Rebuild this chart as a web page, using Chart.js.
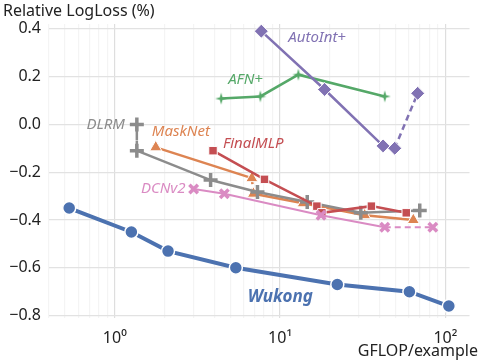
<!DOCTYPE html>
<html>
<head>
<meta charset="utf-8">
<script src="https://cdn.jsdelivr.net/npm/chart.js@4.4.1/dist/chart.umd.min.js"></script>
<style>
  html, body { margin: 0; padding: 0; background: #fff; }
  #wrap { width: 480px; height: 361px; }
</style>
</head>
<body>
<div id="wrap"><canvas id="myChart" width="480" height="361"></canvas></div>
<script>
// values (x = GFLOP/example, y = relative logloss %)
const wukongX = [0.53, 1.26, 2.1, 5.4, 22.2, 60.6, 105];
const wukongY = [-0.35, -0.45, -0.53, -0.60, -0.67, -0.70, -0.76];
const autoIntX = [7.7, 18.6, 42, 49.4, 68];
const autoIntY = [0.39, 0.146, -0.09, -0.10, 0.13];
const afnX = [4.4, 7.6, 12.9, 43];
const afnY = [0.108, 0.117, 0.208, 0.117];
const dlrmX = [1.36, 1.36, 3.8, 7.3, 14.6, 30.8, 70];
const dlrmY = [0.0, -0.11, -0.233, -0.283, -0.325, -0.37, -0.36];
const maskNetX = [1.77, 6.75, 6.9, 13.8, 32.5, 64];
const maskNetY = [-0.096, -0.225, -0.29, -0.33, -0.38, -0.40];
const finalMlpX = [3.93, 8.05, 16.7, 17.9, 35.7, 58];
const finalMlpY = [-0.11, -0.23, -0.342, -0.37, -0.342, -0.37];
const dcnX = [3.0, 4.6, 17.7, 43, 84];
const dcnY = [-0.27, -0.29, -0.38, -0.43, -0.43];

const yTicks = [-0.8, -0.6, -0.4, -0.2, 0.0, 0.2, 0.4];
const xMajor = [1, 10, 100];
const xTickText = { 1: '10\u2070', 10: '10\u00b9', 100: '10\u00b2' };

const FONT = '"Noto Sans", "DejaVu Sans", sans-serif';

function pts(xs, ys) {
  return xs.map((x, i) => ({ x: x, y: ys[i] }));
}

// dash one segment of a line
function dashAt(list) {
  return {
    borderDash: ctx => list.includes(ctx.p0DataIndex) ? [6, 4] : undefined
  };
}

// small 4 point star for AFN+
function starMark(color, r) {
  let c = document.createElement('canvas');
  c.width = c.height = 2 * r + 2;
  let g = c.getContext('2d');
  g.translate(r + 1, r + 1);
  g.beginPath();
  for (let k = 0; k < 8; k++) {
    let a = k * Math.PI / 4 - Math.PI / 2;
    let rad = k % 2 ? r * 0.32 : r;
    g.lineTo(Math.cos(a) * rad, Math.sin(a) * rad);
  }
  g.closePath();
  g.fillStyle = color;
  g.fill();
  return c;
}

const blue = '#4c72b0', orange = '#dd8452', green = '#55a868', red = '#c44e52',
      purple = '#8172b3', pink = '#da8bc3', gray = '#8c8c8c';

let datasets = [
  {
    label: 'Wukong', data: pts(wukongX, wukongY), borderColor: blue, backgroundColor: blue,
    borderWidth: 4, pointStyle: 'circle', pointRadius: 6.5, pointBorderColor: '#fff', pointBorderWidth: 1.5,
    tag: { i: 3, dx: 12, dy: 29, align: 'left', bold: true, size: 17 }
  },
  {
    label: 'DCNv2', data: pts(dcnX, dcnY), borderColor: pink, backgroundColor: pink,
    borderWidth: 2, pointStyle: 'crossRot', pointRadius: 6, pointBorderWidth: 3.5,
    segment: dashAt([3]),
    tag: { i: 0, dx: -8, dy: 0, align: 'right' }
  },
  {
    label: 'FinalMLP', data: pts(finalMlpX, finalMlpY), borderColor: red, backgroundColor: red,
    borderWidth: 2.5, pointStyle: 'rect', pointRadius: 6, pointBorderColor: '#fff', pointBorderWidth: 1,
    tag: { i: 0, dx: 10, dy: -7, align: 'left' }
  },
  {
    label: 'DLRM', data: pts(dlrmX, dlrmY), borderColor: gray, backgroundColor: gray,
    borderWidth: 2.5, pointStyle: 'cross', pointRadius: 7, pointBorderWidth: 3.5,
    segment: dashAt([0]),
    tag: { i: 0, dx: -12, dy: 0, align: 'right' }
  },
  {
    label: 'MaskNet', data: pts(maskNetX, maskNetY), borderColor: orange, backgroundColor: orange,
    borderWidth: 2.5, pointStyle: 'triangle', pointRadius: 7, pointBorderColor: '#fff', pointBorderWidth: 1,
    segment: dashAt([1]),
    tag: { i: 0, dx: -4, dy: -16, align: 'left' }
  },
  {
    label: 'AutoInt+', data: pts(autoIntX, autoIntY), borderColor: purple, backgroundColor: purple,
    borderWidth: 2.5, pointStyle: 'rectRot', pointRadius: 7, pointBorderColor: '#fff', pointBorderWidth: 1,
    segment: dashAt([3]),
    tag: { i: 0, dx: 27, dy: 7, align: 'left' }
  },
  {
    label: 'AFN+', data: pts(afnX, afnY), borderColor: green, backgroundColor: green,
    borderWidth: 2.5, pointStyle: starMark(green, 6), pointRadius: 6,
    tag: { i: 0, dx: 7, dy: -19, align: 'left' }
  }
];

// series names next to their first marks + axis titles
let namePlugin = {
  id: 'names',
  afterDatasetsDraw(chart) {
    let c = chart.ctx;
    let xs = chart.scales.x, ys = chart.scales.y;
    c.save();
    chart.data.datasets.forEach(ds => {
      let t = ds.tag;
      let p = ds.data[t.i];
      let px = xs.getPixelForValue(p.x) + t.dx;
      let py = ys.getPixelForValue(p.y) + t.dy;
      c.font = 'italic ' + (t.bold ? 'bold ' : '') + (t.size || 15) + 'px ' + FONT;
      c.fillStyle = ds.borderColor;
      c.textAlign = t.align;
      c.textBaseline = 'middle';
      c.fillText(ds.label, px, py);
    });
    c.fillStyle = '#222';
    c.font = '16px ' + FONT;
    c.textBaseline = 'alphabetic';
    c.textAlign = 'left';
    c.fillText('Relative LogLoss (%)', 3, 16);
    c.textAlign = 'right';
    c.fillText('GFLOP/example', 478, 356);
    c.restore();
  }
};

let ctx = document.getElementById('myChart').getContext('2d');

let myChart = new Chart(ctx, {
  type: 'line',
  data: { datasets: datasets },
  plugins: [namePlugin],
  options: {
    responsive: false,
    animation: false,
    devicePixelRatio: 1,
    layout: { padding: { top: 24, right: 0, left: 0, bottom: 0 } },
    plugins: { legend: { display: false }, tooltip: { enabled: false } },
    scales: {
      x: {
        type: 'logarithmic',
        min: 0.4,
        max: 140,
        afterBuildTicks(scale) {
          let t = [];
          [0.1, 1, 10, 100].forEach(d => {
            for (let k = 1; k < 10; k++) {
              let v = +(d * k).toPrecision(3);
              if (v >= scale.min && v <= scale.max) t.push({ value: v });
            }
          });
          scale.ticks = t;
        },
        afterFit(scale) { scale.height = 43; },
        border: { display: false },
        grid: {
          color: c => c.tick && xMajor.includes(c.tick.value) ? '#dedede' : '#f4f4f4',
          lineWidth: 1.2,
          drawTicks: false
        },
        ticks: {
          autoSkip: false,
          maxRotation: 0,
          padding: 11,
          color: '#222',
          font: { family: FONT, size: 16 },
          callback: v => xTickText[v] || ''
        }
      },
      y: {
        min: -0.81,
        max: 0.42,
        afterBuildTicks(scale) {
          scale.ticks = yTicks.map(v => ({ value: v }));
        },
        afterFit(scale) { scale.width = 49; },
        border: { display: false },
        grid: { color: '#e2e2e2', lineWidth: 1.2, drawTicks: false },
        ticks: {
          padding: 8,
          color: '#222',
          font: { family: FONT, size: 16 },
          callback: v => (v < 0 ? '\u2212' : '') + Math.abs(v).toFixed(1)
        }
      }
    }
  }
});
</script>
</body>
</html>
